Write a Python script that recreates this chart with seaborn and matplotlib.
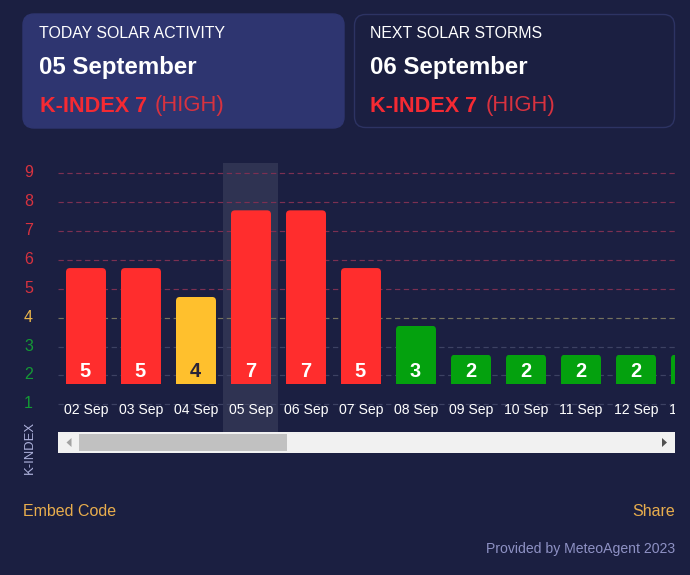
import matplotlib
matplotlib.use("Agg")
import matplotlib.pyplot as plt
import matplotlib.transforms as mtrans
from matplotlib.patches import FancyBboxPatch, Rectangle, Polygon
import pandas as pd
import seaborn as sns

# ================= DATA =================

days = ["02 Sep", "03 Sep", "04 Sep", "05 Sep", "06 Sep", "07 Sep", "08 Sep",
        "09 Sep", "10 Sep", "11 Sep", "12 Sep", "13 Sep"]
k_index = [5, 5, 4, 7, 7, 5, 3, 2, 2, 2, 2, 2]
levels = [1, 2, 3, 4, 5, 6, 7, 8, 9]
today = "05 Sep"

BG = "#1b1f41"
RED = "#ff2d2d"
YELLOW = "#ffc02d"
GREEN = "#04a10e"


def bar_colour(k):
    if k >= 5:
        return RED
    if k == 4:
        return YELLOW
    return GREEN


def tick_colour(k):
    if k >= 5:
        return "#d8323f"
    if k == 4:
        return "#eab54a"
    return "#149a35"


def grid_colour(k):
    if k >= 5:
        return "#7c3052"
    if k == 4:
        return "#76735f"
    return "#3d4263"


sns.set_theme(style="white")
plt.rcParams["font.family"] = ["Liberation Sans", "DejaVu Sans"]

W, H = 690, 575
fig = plt.figure(figsize=(W / 100, H / 100), dpi=100, facecolor=BG)

# full figure axes in pixels, for the cards and the scrollbar
page = fig.add_axes([0, 0, 1, 1], zorder=0)
page.set_xlim(0, W)
page.set_ylim(H, 0)
page.axis("off")


def px(size):
    return size * 0.72


# ================= CARDS =================

def card(x0, y0, x1, y1, face, edge):
    r = 11
    page.add_patch(FancyBboxPatch((x0 + r, y0 + r), x1 - x0 - 2 * r, y1 - y0 - 2 * r,
                                  boxstyle=f"round,pad={r}", fc=face, ec=edge, lw=1))


card(23, 14, 344, 128, "#2e3570", "#2e3570")
card(354.5, 14.5, 674.5, 127.5, BG, "#2d3363")

for x, head, date in [(39, "TODAY SOLAR ACTIVITY", "05 September"),
                      (370, "NEXT SOLAR STORMS", "06 September")]:
    page.text(x, 33, head, color="white", fontsize=px(15.9), va="center")
    page.text(x, 67.5, date, color="white", fontsize=px(24), fontweight="bold", va="center")
    page.text(x + 0.5, 111.5, "K-INDEX 7", color="#f52a33", fontsize=px(21.6), fontweight="bold", va="baseline")
    page.text(x + 115.5, 111.5, "(HIGH)", color="#d8323f", fontsize=px(22), va="baseline")

# ================= BARS =================

ax = fig.add_axes([58 / W, 1 - 432 / H, 617 / W, 269 / H], zorder=1)
ax.patch.set_alpha(0)

data = pd.DataFrame({"day": days, "k": k_index})
data["height"] = data["k"] - 1
palette = {d: bar_colour(k) for d, k in zip(days, k_index)}
sns.barplot(data=data, x="day", y="height", hue="day", palette=palette, legend=False,
            width=0.727, saturation=1, linewidth=0, ax=ax, zorder=3)

ax.set_xlim(-0.509, 10.709)
ax.set_ylim(0.04, 9.36)

BAR_BASE = 1.72
for bar in ax.patches:
    bar.set_y(BAR_BASE)

# round only the top corners of the bars
for bar in ax.patches:
    (x0, y0), (x1, y1) = ax.transData.transform(
        [(bar.get_x(), bar.get_y()), (bar.get_x() + bar.get_width(), bar.get_y() + bar.get_height())])
    r = 4
    clip = FancyBboxPatch((x0 + r, y0 - 20), x1 - x0 - 2 * r, y1 - y0 + 20 - r,
                          boxstyle=f"round,pad={r}", transform=mtrans.IdentityTransform())
    bar.set_clip_path(clip)

today_pos = days.index(today)
ax.axvspan(today_pos - 0.5, today_pos + 0.5, color="white", alpha=0.09, lw=0, zorder=1)

for k in levels:
    line = ax.axhline(k, color=grid_colour(k), lw=0.85, ls=(0, (4.5, 3)), zorder=2)
    line.set_snap(True)

for i, (d, k) in enumerate(zip(days, k_index)):
    # the last bar runs out of the scroll area, its value is not visible
    if i < len(days) - 1:
        ax.text(i - 0.01, 2.13, str(k), color="#2a2438" if k == 4 else "white", fontsize=px(20),
                fontweight="bold", ha="center", va="center", zorder=4, clip_on=True)
    ax.text(i, 0.81, d, color="white", fontsize=px(14), ha="center", va="center",
            zorder=4, clip_on=True)

ax.set_xticks([])
ax.set_yticks(levels)
ax.set_yticklabels([str(k) for k in levels])
ax.set_xlabel("")
ax.set_ylabel("K-INDEX", color="#aeb2dc", fontsize=px(13))
ax.yaxis.set_label_coords(-22 / 617, -16 / 269)
ax.tick_params(axis="y", length=0, pad=px(25))
lift = mtrans.ScaledTranslation(0, 2 / 100, fig.dpi_scale_trans)
for lab, k in zip(ax.get_yticklabels(), levels):
    lab.set_color(tick_colour(k))
    lab.set_fontsize(px(16))
    lab.set_transform(lab.get_transform() + lift)
sns.despine(ax=ax, left=True, bottom=True)

# ================= SCROLLBAR =================

page.add_patch(Rectangle((58, 432), 617, 21, fc="#f1f1f1", lw=0, zorder=2))
page.add_patch(Rectangle((79, 434), 208, 17, fc="#c1c1c1", lw=0, zorder=3))
page.add_patch(Polygon([(71.5, 438), (71.5, 447), (66.5, 442.5)], fc="#a3a3a3", lw=0, zorder=3))
page.add_patch(Polygon([(662, 438), (662, 447), (667, 442.5)], fc="#505050", lw=0, zorder=3))

# ================= FOOTER =================

page.text(23, 511.5, "Embed Code", color="#e8ad4d", fontsize=px(16), va="center")
page.text(675, 511.5, "Share", color="#e8ad4d", fontsize=px(16), va="center", ha="right")
page.text(675, 549.5, "Provided by MeteoAgent 2023", color="#8e91c4", fontsize=px(14), va="center", ha="right")

fig.savefig("out.png", dpi=100, facecolor=BG)
